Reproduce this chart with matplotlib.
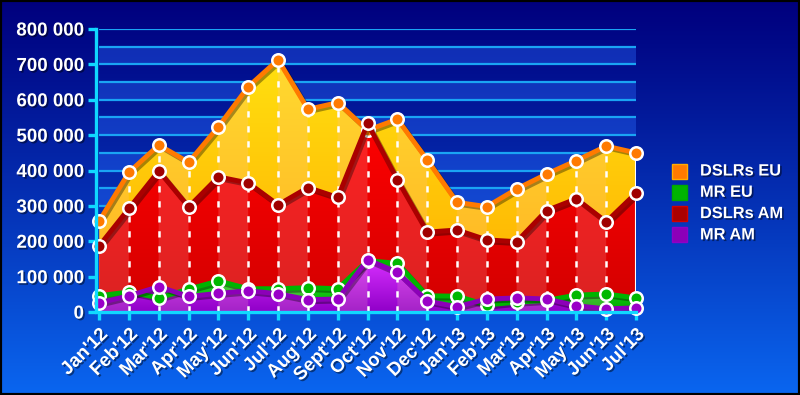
import numpy as np
import matplotlib
matplotlib.use("Agg")
import matplotlib.pyplot as plt
import matplotlib.patheffects as pe
from matplotlib.colors import to_rgb
from matplotlib.patches import Rectangle
from matplotlib.ticker import FuncFormatter, MultipleLocator

plt.rcParams['font.family'] = ['Liberation Sans', 'DejaVu Sans']
plt.rcParams['font.weight'] = 'bold'

months = ["Jan'12", "Feb'12", "Mar'12", "Apr'12", "May'12", "Jun'12", "Jul'12",
          "Aug'12", "Sept'12", "Oct'12", "Nov'12", "Dec'12", "Jan'13", "Feb'13",
          "Mar'13", "Apr'13", "May'13", "Jun'13", "Jul'13"]

dslr_eu = [257000, 395000, 472000, 423000, 524000, 637000, 713000, 573000, 592000,
           514000, 545000, 430000, 310000, 298000, 348000, 390000, 428000, 469000, 450000]
dslr_am = [187000, 293000, 399000, 297000, 382000, 365000, 303000, 352000, 324000,
           533000, 374000, 226000, 232000, 204000, 199000, 287000, 320000, 255000, 336000]
mr_eu = [46000, 57000, 40000, 65000, 88000, 66000, 66000, 69000, 66000,
         145000, 138000, 46000, 45000, 20000, 28000, 33000, 48000, 51000, 40000]
mr_am = [26000, 46000, 72000, 44000, 53000, 60000, 52000, 35000, 37000,
         148000, 112000, 31000, 15000, 37000, 40000, 37000, 18000, 9000, 12000]

names = ["DSLRs EU", "MR EU", "DSLRs AM", "MR AM"]
series = [dslr_eu, mr_eu, dslr_am, mr_am]
# fill top, fill bottom, line colour, marker colour
styles = {
    "DSLRs EU": ("#FFE010", "#FFAC00", "#FF7A00", "#FF7A00"),
    "MR EU": ("#30F030", "#00A800", "#00B400", "#00B800"),
    "DSLRs AM": ("#FF0000", "#D20000", "#AA0000", "#A00000"),
    "MR AM": ("#D830FF", "#9000C8", "#8C00B8", "#9A00C8"),
}
draw_order = ["DSLRs EU", "DSLRs AM", "MR EU", "MR AM"]

fig = plt.figure(figsize=(8, 3.95), dpi=100)

# background gradient
bg = fig.add_axes([0, 0, 1, 1], zorder=-10)
top_c, bot_c = np.array(to_rgb("#00007E")), np.array(to_rgb("#0A66F0"))
t = np.linspace(0, 1, 256)[:, None, None]
bg.imshow(top_c + (bot_c - top_c) * t ** 1.1, aspect='auto', extent=[0, 1, 0, 1])
bg.axis('off')

ax = fig.add_axes([0.124, 0.21, 0.671, 0.7166])
ax.set_facecolor('none')
x = np.arange(len(months))
ymax = 800000

# horizontal bands and grid
for lo in range(0, ymax, 100000):
    ax.axhspan(lo, lo + 50000, color='#2A6CFF', alpha=0.38, lw=0, zorder=0)
for g in range(50000, ymax + 1, 50000):
    ax.axhline(g, color='#1AA4F4', lw=1.6, zorder=1)


def grad_fill(vals, top, bot, z):
    poly = ax.fill_between(x, 0, vals, color='none', lw=0, zorder=z)
    path = poly.get_paths()[0]
    ny, nx = 200, 720
    tt = np.linspace(1, 0, ny)[:, None, None]
    img = np.array(to_rgb(bot)) + (np.array(to_rgb(top)) - np.array(to_rgb(bot))) * tt
    img = np.repeat(img, nx, axis=1)
    xs = np.linspace(0, len(x) - 1, nx, endpoint=False)
    light = (np.floor(xs) % 2 == 0)[None, :, None]
    img = np.where(light, img * 0.82 + 0.18 * np.array([1.0, 0.75, 0.75]), img)
    im = ax.imshow(np.clip(img, 0, 1), extent=[0, len(x) - 1, 0, max(vals)],
                   aspect='auto', origin='upper', zorder=z, interpolation='bilinear')
    im.set_clip_path(path, transform=ax.transData)


for i, n in enumerate(draw_order):
    vals = series[names.index(n)]
    grad_fill(vals, styles[n][0], styles[n][1], 2 + i)

# dashed white verticals
tops = np.max(np.array(series), axis=0)
ax.vlines(x[1:-1], 0, tops[1:-1], colors='white', lw=1.8,
          linestyles=(0, (2.5, 3.5)), zorder=7)
ax.vlines([x[-1]], 0, tops[-1], colors='white', lw=1.5, zorder=7)

shadow = [pe.SimpleLineShadow(offset=(1.5, -1.5), shadow_color='black', alpha=0.35), pe.Normal()]
for i, n in enumerate(draw_order):
    vals = series[names.index(n)]
    ax.plot(x, vals, color=styles[n][2], lw=3.5, zorder=10 + i, solid_joinstyle='round',
            path_effects=shadow, clip_on=False)
    ax.plot(x, vals, 'o', ms=9, mfc=styles[n][3], mec='white', mew=1.8,
            zorder=10 + i, clip_on=False)

ax.set_xlim(0, len(x) - 1)
ax.set_ylim(0, ymax)

for s in ['top', 'right']:
    ax.spines[s].set_visible(False)
for s in ['left', 'bottom']:
    ax.spines[s].set_color('#10D8FF')
    ax.spines[s].set_linewidth(2.4)
    ax.spines[s].set_zorder(20)
ax.spines['left'].set_position(('outward', 2))

ax.yaxis.set_major_locator(MultipleLocator(100000))
ax.yaxis.set_major_formatter(FuncFormatter(lambda v, p: f"{int(v):,}".replace(',', ' ')))
ax.set_xticks(x)
ax.set_xticklabels(months, rotation=45, ha='right', rotation_mode='anchor')
ax.tick_params(axis='both', colors='#10D8FF', width=2.4, length=6, labelcolor='white',
               labelsize=13.5, pad=3)
ax.tick_params(axis='x', pad=4)

txt_shadow = [pe.withSimplePatchShadow(offset=(1.2, -1.2), shadow_rgbFace='black', alpha=0.45)]
for lab in ax.get_xticklabels() + ax.get_yticklabels():
    lab.set_fontweight('bold')
    lab.set_path_effects(txt_shadow)

# legend
for i, n in enumerate(names):
    yy = 1 - (171 + i * 21.3) / 395
    fig.patches.append(Rectangle((672 / 800, yy - 7.5 / 395), 15 / 800, 15 / 395,
                                 transform=fig.transFigure, facecolor=styles[n][2],
                                 edgecolor=styles[n][1], lw=1.0))
    fig.text(700 / 800, yy, n, color='white', fontsize=11.8, fontweight='bold',
             va='center', ha='left', path_effects=txt_shadow)

# outer frame
fig.patches.append(Rectangle((0, 0), 1, 1, transform=fig.transFigure, fill=False,
                             edgecolor='black', lw=3))

fig.savefig("out.png", dpi=100)
